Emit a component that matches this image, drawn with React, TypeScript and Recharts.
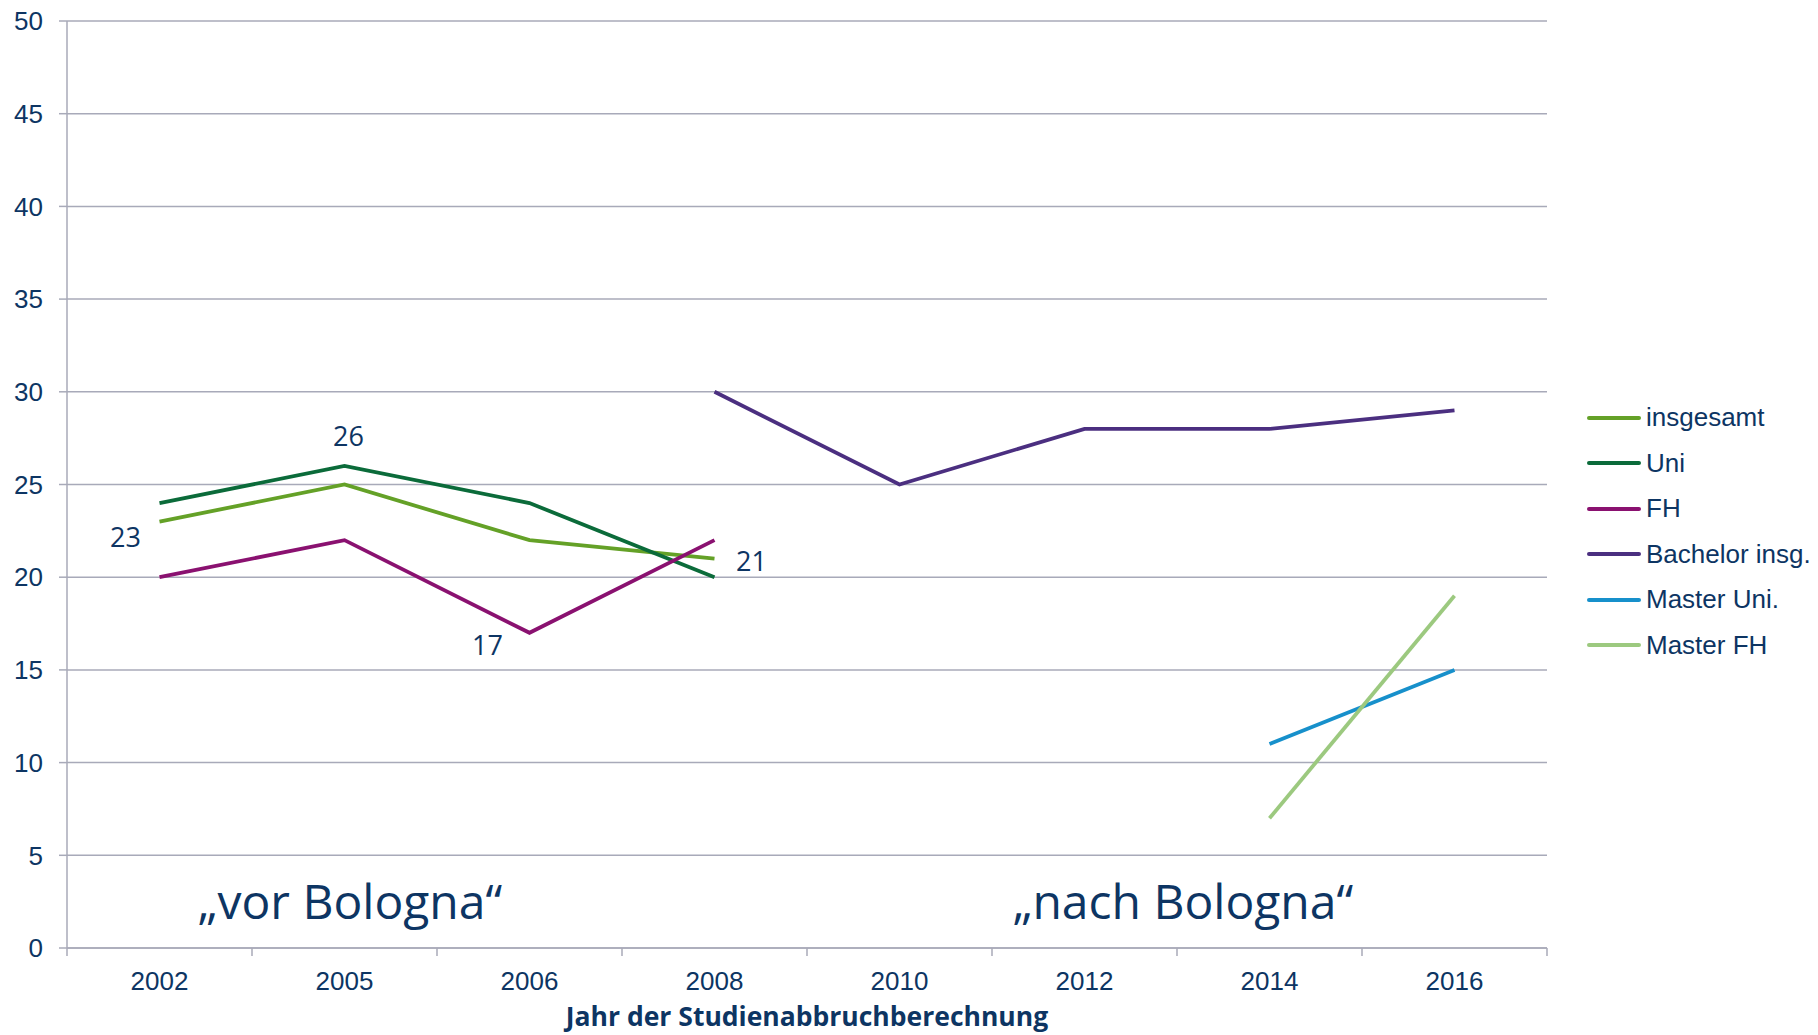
import React from 'react';
import { LineChart, Line, XAxis, YAxis, CartesianGrid } from 'recharts';

// Abbruchquoten nach Jahr der Studienabbruchberechnung
const years = ['2002', '2005', '2006', '2008', '2010', '2012', '2014', '2016'];
const insgesamt = [23, 25, 22, 21, null, null, null, null];
const uni = [24, 26, 24, 20, null, null, null, null];
const fh = [20, 22, 17, 22, null, null, null, null];
const bachelor = [null, null, null, 30, 25, 28, 28, 29];
const masterUni = [null, null, null, null, null, null, 11, 15];
const masterFh = [null, null, null, null, null, null, 7, 19];
const yTicks = [0, 5, 10, 15, 20, 25, 30, 35, 40, 45, 50];

const series = [
  { key: 'insgesamt', name: 'insgesamt', color: '#64a127' },
  { key: 'uni', name: 'Uni', color: '#0b6b3a' },
  { key: 'fh', name: 'FH', color: '#8a1170' },
  { key: 'bachelor', name: 'Bachelor insg.', color: '#4b2f80' },
  { key: 'masterUni', name: 'Master Uni.', color: '#1790cb' },
  { key: 'masterFh', name: 'Master FH', color: '#9cc97f' },
];

const data = years.map((year, i) => ({
  year,
  insgesamt: insgesamt[i],
  uni: uni[i],
  fh: fh[i],
  bachelor: bachelor[i],
  masterUni: masterUni[i],
  masterFh: masterFh[i],
}));

const W = 1818;
const H = 1035;
const LEFT = 67;
const RIGHT = 271;
const PLOT_W = W - LEFT - RIGHT;
const BAND = PLOT_W / years.length;
const TEXT = '#0d3563';
const GRID = '#a8aab9';
const ARIAL = '"Liberation Sans", Arial, sans-serif';
const OPEN = '"Open Sans", sans-serif';

const XTick = (props: any) => {
  const { x, y, payload, index } = props;
  return (
    <g>
      <line x1={x - BAND / 2} x2={x - BAND / 2} y1={y} y2={y + 8} stroke={GRID} strokeWidth={1.5} />
      {index === years.length - 1 && (
        <line x1={x + BAND / 2} x2={x + BAND / 2} y1={y} y2={y + 8} stroke={GRID} strokeWidth={1.5} />
      )}
      <text x={x} y={y + 33} textAnchor="middle" dominantBaseline="central" fill={TEXT} fontSize={26} fontFamily={ARIAL}>
        {payload.value}
      </text>
    </g>
  );
};

const makeLabel = (which: Record<number, [number, number]>) => (props: any) => {
  const { x, y, index, value } = props;
  const off = which[index];
  if (!off || value == null) return null;
  return (
    <text key={index} x={x + off[0]} y={y + off[1]} textAnchor="middle" dominantBaseline="central" fill={TEXT} fontSize={27} fontFamily={OPEN}>
      {value}
    </text>
  );
};

const labels: Record<string, Record<number, [number, number]>> = {
  insgesamt: { 0: [-34, 15], 3: [37, 2] },
  uni: { 1: [4, -30] },
  fh: { 2: [-42, 12] },
};

const App: React.FC = () => {
  return (
    <div style={{ position: 'absolute', left: 0, top: 0, width: W, height: H, background: '#fff' }}>
      <LineChart width={W} height={H} data={data} margin={{ top: 21, right: RIGHT, bottom: 0, left: 0 }}>
        <CartesianGrid vertical={false} stroke={GRID} strokeWidth={1.5} />
        <XAxis
          dataKey="year"
          height={87}
          padding={{ left: BAND / 2, right: BAND / 2 }}
          tick={<XTick />}
          tickLine={false}
          tickSize={0}
          tickMargin={0}
          axisLine={{ stroke: GRID, strokeWidth: 1.5 }}
          interval={0}
          label={{
            value: 'Jahr der Studienabbruchberechnung',
            position: 'insideBottom',
            offset: 9,
            fill: TEXT,
            fontSize: 26.5,
            fontWeight: 700,
            fontFamily: OPEN,
          }}
        />
        <YAxis
          width={LEFT}
          domain={[0, 50]}
          ticks={yTicks}
          interval={0}
          tickSize={8}
          tickMargin={16}
          tickLine={{ stroke: GRID, strokeWidth: 1.5 }}
          axisLine={{ stroke: GRID, strokeWidth: 1.5 }}
          tick={{ fill: TEXT, fontSize: 26, fontFamily: ARIAL }}
        />
        {series.map((s) => (
          <Line
            key={s.key}
            dataKey={s.key}
            name={s.name}
            stroke={s.color}
            strokeWidth={3.8}
            dot={false}
            activeDot={false}
            isAnimationActive={false}
            label={labels[s.key] ? makeLabel(labels[s.key]) : undefined}
          />
        ))}
      </LineChart>
      <div style={{ position: 'absolute', left: 1587, top: 395 }}>
        {series.map((s) => (
          <div key={s.key} style={{ display: 'flex', alignItems: 'center', height: 45.5 }}>
            <div style={{ width: 54, height: 4, background: s.color, borderRadius: 2, marginRight: 5 }} />
            <span style={{ color: TEXT, fontSize: 26, fontFamily: ARIAL }}>{s.name}</span>
          </div>
        ))}
      </div>
      <div style={{ position: 'absolute', left: 350, top: 900, transform: 'translate(-50%, -50%)', color: TEXT, fontSize: 48, fontFamily: OPEN, whiteSpace: 'nowrap' }}>
        „vor Bologna“
      </div>
      <div style={{ position: 'absolute', left: 1183, top: 900, transform: 'translate(-50%, -50%)', color: TEXT, fontSize: 48, fontFamily: OPEN, whiteSpace: 'nowrap' }}>
        „nach Bologna“
      </div>
    </div>
  );
};

export default App;
